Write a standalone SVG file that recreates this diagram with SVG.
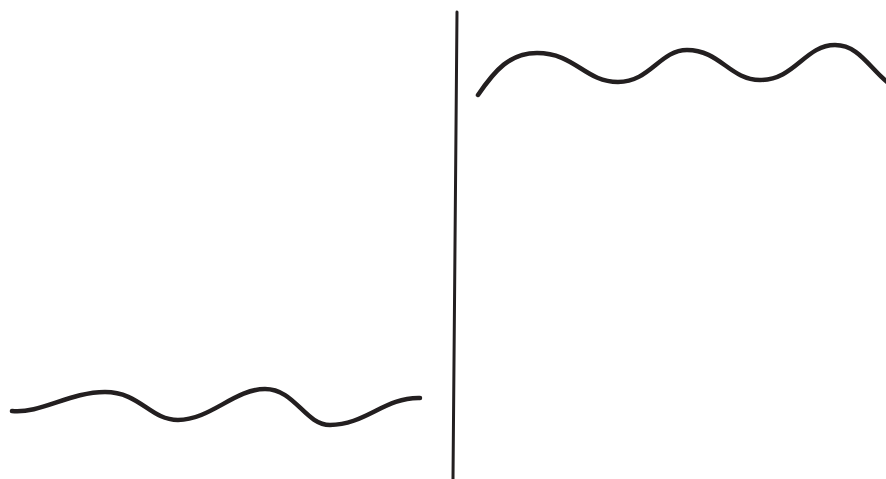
<svg xmlns="http://www.w3.org/2000/svg" width="886" height="479" viewBox="0 0 886 479">
<style>
.s{fill:none;stroke:#231f20;stroke-linecap:round;stroke-linejoin:round}
.w{stroke-width:4.5}
</style>
<rect width="886" height="479" fill="#fff"/>
<g id="divider"><path class="s" stroke-width="3" d="M457,12 L453,479"/></g>
<g id="wave-left"><path class="s w" d="M12,411 C40,414 70,392 105,392 C140,392 150,420 178,420 C210,420 235,389 265,389 C295,389 305,425 330,425 C365,425 385,397 420,398"/></g>
<g id="wave-right"><path class="s w" d="M478,95 C495,70 510,53 537,53 C575,53 585,82 618,82 C650,82 660,50 687,50 C720,50 730,80 760,80 C795,80 805,45 835,45 C860,45 870,70 892,86"/></g>
</svg>
